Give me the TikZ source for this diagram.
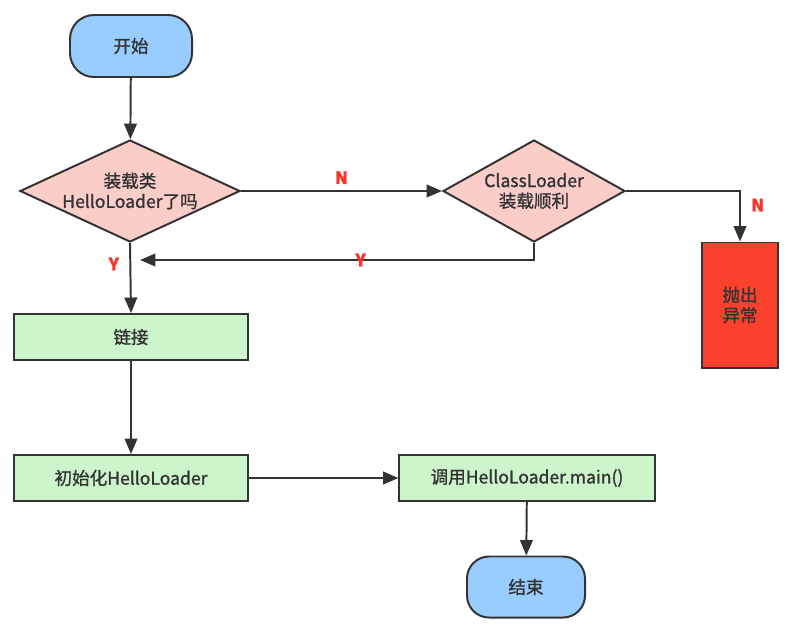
\documentclass[tikz,border=0pt]{standalone}
\usepackage{fontspec}
\setmainfont{Noto Sans CJK SC}[FakeBold=1.2]
\usepackage{tikz}
\usetikzlibrary{shapes.geometric,arrows.meta}
\definecolor{termblue}{RGB}{153,204,255}
\definecolor{askpink}{RGB}{250,205,200}
\definecolor{stepgreen}{RGB}{204,245,204}
\definecolor{errred}{RGB}{250,65,45}
\definecolor{edgegray}{RGB}{51,51,51}
\definecolor{labred}{RGB}{250,50,40}

\begin{document}
\begin{tikzpicture}[x=0.025cm, y=-0.025cm,
  every node/.style={font=\fontsize{12.5}{14.5}\selectfont, text=edgegray, align=center},
  term/.style={draw=edgegray, line width=1.4pt, fill=termblue, rounded corners=0.6cm},
  ask/.style={diamond, aspect=2.2, draw=edgegray, line width=1.4pt, fill=askpink, inner sep=-6pt,
    minimum width=5.5cm, minimum height=2.55cm},
  stepbox/.style={draw=edgegray, line width=1.4pt, fill=stepgreen,
    minimum width=5.85cm, minimum height=1.15cm},
  arr/.style={-{Triangle[length=11pt,width=9pt]}, draw=edgegray, line width=1.4pt},
  lab/.style={text=labred, font=\fontsize{12}{14}\selectfont\bfseries}]
  \useasboundingbox (0,0) rectangle (793,623);
  % start and the two questions
  \node[term, minimum width=3.05cm, minimum height=1.55cm] (start) at (131,46) {开始};
  \node[ask] (loaded) at (130,191) {装载类\\HelloLoader了吗};
  \node[ask, minimum width=4.55cm] (clok) at (534,191) {ClassLoader\\装载顺利};
  \node[draw=edgegray, line width=1.4pt, fill=errred, minimum width=1.9cm,
    minimum height=3.125cm] (thrw) at (740,305) {抛出\\异常};
  % the steps
  \node[stepbox] (link) at (131,337) {链接};
  \node[stepbox] (init) at (131,478) {初始化HelloLoader};
  \node[stepbox, minimum width=6.375cm] (call) at (527,478) {调用HelloLoader.main()};
  \node[term, rounded corners=0.55cm, minimum width=2.95cm, minimum height=1.525cm] (stop) at (526,587) {结束};
  \coordinate (back) at (140,260);
  % connectors
  \draw[arr] (start) -- (loaded);
  \draw[arr] (loaded.east) -- (clok.west) node[lab, midway, above=1pt] {N};
  \draw[arr] (clok.east) -| (thrw.north) node[lab, pos=0.64, right=4pt] {N};
  \draw[arr] (clok.south) |- (back) node[lab, pos=0.72] {Y};
  \draw[arr] (loaded.south) -- (link.north) node[lab, pos=0.3, left=4pt] {Y};
  \draw[arr] (link) -- (init);
  \draw[arr] (init) -- (call);
  \draw[arr] (call) -- (stop);
\end{tikzpicture}
\end{document}
